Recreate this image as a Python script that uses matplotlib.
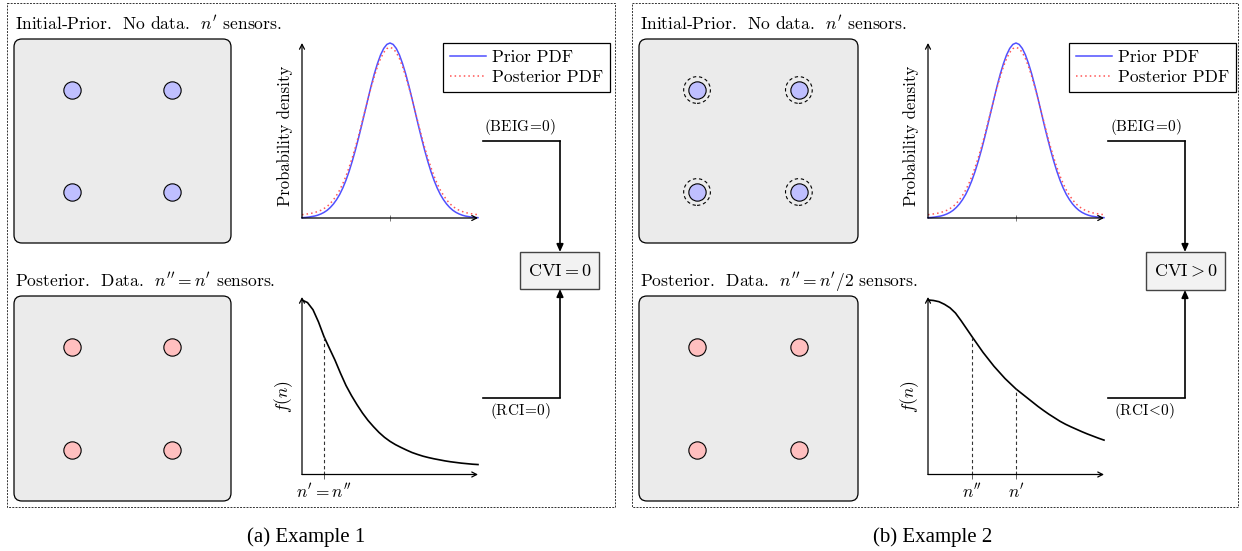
import numpy as np
import matplotlib
matplotlib.use("Agg")
import matplotlib.pyplot as plt
from matplotlib.patches import FancyBboxPatch, Rectangle

plt.rcParams["font.family"] = "cmr10"
plt.rcParams["mathtext.fontset"] = "cm"
plt.rcParams["axes.unicode_minus"] = False

# ---------------------------------------------------------------- data
# prior / posterior densities over the parameter (in units of the prior std)
pdf_x = [-3.5, -3.375, -3.25, -3.125, -3.0, -2.875, -2.75, -2.625, -2.5,
         -2.375, -2.25, -2.125, -2.0, -1.875, -1.75, -1.625, -1.5, -1.375,
         -1.25, -1.125, -1.0, -0.875, -0.75, -0.625, -0.5, -0.375, -0.25,
         -0.125, 0.0, 0.125, 0.25, 0.375, 0.5, 0.625, 0.75, 0.875, 1.0,
         1.125, 1.25, 1.375, 1.5, 1.625, 1.75, 1.875, 2.0, 2.125, 2.25,
         2.375, 2.5, 2.625, 2.75, 2.875, 3.0, 3.125, 3.25, 3.375, 3.5]
prior_pdf = [0.002, 0.003, 0.005, 0.008, 0.011, 0.016, 0.023, 0.032, 0.044,
             0.060, 0.080, 0.105, 0.135, 0.172, 0.216, 0.267, 0.325, 0.389,
             0.458, 0.531, 0.607, 0.682, 0.755, 0.823, 0.882, 0.932, 0.969,
             0.992, 1.000, 0.992, 0.969, 0.932, 0.882, 0.823, 0.755, 0.682,
             0.607, 0.531, 0.458, 0.389, 0.325, 0.267, 0.216, 0.172, 0.135,
             0.105, 0.080, 0.060, 0.044, 0.032, 0.023, 0.016, 0.011, 0.008,
             0.005, 0.003, 0.002]
posterior_pdf = [0.019, 0.021, 0.024, 0.027, 0.031, 0.037, 0.044, 0.054,
                 0.066, 0.083, 0.104, 0.130, 0.160, 0.197, 0.240, 0.290,
                 0.345, 0.405, 0.470, 0.540, 0.610, 0.680, 0.748, 0.809,
                 0.865, 0.911, 0.946, 0.968, 0.975, 0.968, 0.946, 0.911,
                 0.865, 0.809, 0.748, 0.680, 0.610, 0.540, 0.470, 0.405,
                 0.345, 0.290, 0.240, 0.197, 0.160, 0.130, 0.104, 0.083,
                 0.066, 0.054, 0.044, 0.037, 0.031, 0.027, 0.024, 0.021,
                 0.019]

# cost curve f(n) versus number of sensors n
n_grid = [0.0, 0.25, 0.5, 0.75, 1.0, 1.25, 1.5, 1.75, 2.0, 2.25, 2.5, 2.75,
          3.0, 3.25, 3.5, 3.75, 4.0, 4.25, 4.5, 4.75, 5.0, 5.25, 5.5, 5.75,
          6.0, 6.25, 6.5, 6.75, 7.0, 7.25, 7.5, 7.75, 8.0]
f_ex1 = [1.000, 0.985, 0.944, 0.874, 0.790, 0.722, 0.655, 0.580, 0.510,
         0.452, 0.400, 0.352, 0.310, 0.274, 0.241, 0.213, 0.190, 0.171,
         0.155, 0.140, 0.126, 0.115, 0.105, 0.097, 0.090, 0.084, 0.078,
         0.073, 0.069, 0.065, 0.062, 0.059, 0.057]
f_ex2 = [1.000, 0.997, 0.990, 0.975, 0.955, 0.925, 0.882, 0.836, 0.790,
         0.745, 0.700, 0.660, 0.620, 0.585, 0.550, 0.520, 0.490, 0.465,
         0.440, 0.415, 0.390, 0.367, 0.345, 0.325, 0.305, 0.288, 0.273,
         0.259, 0.245, 0.232, 0.220, 0.208, 0.197]

marks_ex1 = [1.0]
mark_labels_ex1 = [r"$n' = n''$"]
marks_ex2 = [2.0, 4.0]
mark_labels_ex2 = [r"$n''$", r"$n'$"]

# sensor layout inside a unit square
sensor_x = [0.265, 0.73, 0.265, 0.73]
sensor_y = [0.75, 0.75, 0.25, 0.25]

titles_prior = [r"Initial-Prior.  No data.  $n'$ sensors.",
                r"Initial-Prior.  No data.  $n'$ sensors."]
titles_post = [r"Posterior.  Data.  $n'' = n'$ sensors.",
               r"Posterior.  Data.  $n'' = n'/2$ sensors."]
beig_labels = [r"(BEIG$\!=\!$0)", r"(BEIG$\!=\!$0)"]
rci_labels = [r"(RCI$\!=\!$0)", r"(RCI$\!<\!$0)"]
cvi_labels = [r"$\mathrm{CVI} = 0$", r"$\mathrm{CVI} > 0$"]
captions = ["(a) Example 1", "(b) Example 2"]

PRIOR_C = "#5050ff"
POST_C = "#ff5555"
BLUE_F = "#bfbfff"
RED_F = "#ffbfbf"

# ---------------------------------------------------------------- layout
W, H = 1242, 551
fig = plt.figure(figsize=(W / 100, H / 100), dpi=100)


def px_axes(x0, y0, x1, y1):
    return fig.add_axes([x0 / W, 1 - y1 / H, (x1 - x0) / W, (y1 - y0) / H])


base = px_axes(0, 0, W, H)
base.set_xlim(0, W)
base.set_ylim(H, 0)
base.axis("off")


def arrow_axes(ax):
    for s in ax.spines.values():
        s.set_visible(False)
    ap = dict(arrowstyle="->,head_length=0.35,head_width=0.18", lw=0.9,
              color="k", shrinkA=0, shrinkB=0)
    ax.annotate("", xy=(1, 0), xytext=(0, 0), xycoords="axes fraction",
                textcoords="axes fraction", arrowprops=ap)
    ax.annotate("", xy=(0, 1), xytext=(0, 0), xycoords="axes fraction",
                textcoords="axes fraction", arrowprops=ap)
    ax.set_yticks([])
    ax.patch.set_alpha(0)


def sensor_box(x0, y0, x1, y1, face, rings=False):
    base.add_patch(FancyBboxPatch((x0, y0), x1 - x0, y1 - y0,
                                  boxstyle="round,pad=0,rounding_size=8",
                                  fc="#ebebeb", ec="k", lw=0.9))
    ax = px_axes(x0, y0, x1, y1)
    ax.set_xlim(0, 1)
    ax.set_ylim(0, 1)
    ax.axis("off")
    ax.scatter(sensor_x, sensor_y, s=155, c=face, edgecolors="k",
               linewidths=0.8, zorder=3)
    if rings:
        ax.scatter(sensor_x, sensor_y, s=370, facecolors="none",
                   edgecolors="k", linewidths=0.8, linestyles=(0, (3, 2.5)),
                   zorder=3)


panels = [
    dict(px=7, pr=615, box_l=14, box_r=231, plot_l=302, plot_r=478,
         leg=(443, 43), flow_l=483, flow_x=560, cvi=(520, 252, 599, 289),
         f=f_ex1, marks=marks_ex1, mlabels=mark_labels_ex1,
         rings=False, beig_x=520, rci_x=520, cap_x=306),
    dict(px=632, pr=1238, box_l=639, box_r=858, plot_l=928, plot_r=1104,
         leg=(1069, 43), flow_l=1108, flow_x=1185, cvi=(1146, 252, 1225, 290),
         f=f_ex2, marks=marks_ex2, mlabels=mark_labels_ex2,
         rings=True, beig_x=1146, rci_x=1144, cap_x=933),
]

for i, p in enumerate(panels):
    # dotted frame around each example
    base.add_patch(Rectangle((p["px"], 3), p["pr"] - p["px"], 504, fill=False,
                             ls=(0, (2, 1.3)), lw=0.7, ec="#333333"))

    base.text(p["box_l"] + 1, 29, titles_prior[i], fontsize=12.6,
              va="baseline")
    base.text(p["box_l"] + 1, 286.5, titles_post[i], fontsize=12.6,
              va="baseline")

    sensor_box(p["box_l"], 39, p["box_r"], 243, BLUE_F, rings=p["rings"])
    sensor_box(p["box_l"], 296, p["box_r"], 501, RED_F)

    # prior vs posterior density
    ax = px_axes(p["plot_l"], 43, p["plot_r"], 218)
    arrow_axes(ax)
    ax.set_xlim(-3.5, 3.5)
    ax.set_ylim(0, 1.0)
    l1, = ax.plot(pdf_x, prior_pdf, color=PRIOR_C, lw=1.1, clip_on=False,
                  label="Prior PDF")
    l2, = ax.plot(pdf_x, posterior_pdf, color=POST_C, lw=1.1, ls=(0, (1, 2)),
                  clip_on=False, label="Posterior PDF")
    ax.set_xticks([0])
    ax.set_xticklabels([])
    ax.tick_params(axis="x", direction="inout", length=5, width=0.6,
                   color="#666666")
    ax.set_ylabel("Probability density", fontsize=12)
    ax.yaxis.set_label_coords(-0.05, 0.47)
    leg = ax.legend(handles=[l1, l2], loc="upper left",
                    bbox_to_anchor=(p["leg"][0] / W, 1 - p["leg"][1] / H),
                    bbox_transform=fig.transFigure, fontsize=12.5,
                    fancybox=False, edgecolor="k", framealpha=1,
                    handlelength=2.1, handletextpad=0.3, borderpad=0.4,
                    labelspacing=0.25, borderaxespad=0)
    leg.get_frame().set_linewidth(0.9)

    # f(n) curve with sensor counts marked
    ax2 = px_axes(p["plot_l"], 297, p["plot_r"], 474.5)
    arrow_axes(ax2)
    ax2.set_xlim(0, 8)
    ax2.set_ylim(0, 1.017)
    ax2.plot(n_grid, p["f"], color="k", lw=1.2, clip_on=False)
    heights = np.interp(p["marks"], n_grid, p["f"])
    ax2.vlines(p["marks"], 0, heights, colors="#333333", lw=0.8,
               linestyles=(0, (3, 2.5)))
    ax2.set_xticks(p["marks"])
    ax2.set_xticklabels(p["mlabels"], fontsize=12.5)
    ax2.tick_params(axis="x", direction="inout", length=6, width=0.6,
                    color="#444444", pad=2)
    ax2.set_ylabel(r"$f(n)$", fontsize=12.5)
    ax2.yaxis.set_label_coords(-0.04, 0.44)

    # flow into the CVI box
    fx, fl = p["flow_x"], p["flow_l"]
    x0, y0, x1, y1 = p["cvi"]
    head = dict(arrowstyle="-|>,head_length=0.45,head_width=0.2", lw=1.2,
                color="k", shrinkA=0, shrinkB=0)
    base.plot([fl, fx], [141, 141], color="k", lw=1.2)
    base.annotate("", xy=(fx, y0), xytext=(fx, 141), arrowprops=head)
    base.plot([fl, fx], [397.5, 397.5], color="k", lw=1.2)
    base.annotate("", xy=(fx, y1), xytext=(fx, 397.5), arrowprops=head)
    base.add_patch(Rectangle((x0, y0), x1 - x0, y1 - y0, fc="#f2f2f2",
                             ec="#444444", lw=1.0))
    base.text((x0 + x1) / 2, (y0 + y1) / 2, cvi_labels[i], fontsize=13,
              ha="center", va="center")
    base.text(p["beig_x"], 127, beig_labels[i], fontsize=11, ha="center",
              va="center")
    base.text(p["rci_x"], 411, rci_labels[i], fontsize=11, ha="center",
              va="center")

    base.text(p["cap_x"], 537, captions[i], fontsize=15, ha="center",
              va="center", family="Liberation Serif")

fig.savefig("out.png", dpi=100)
